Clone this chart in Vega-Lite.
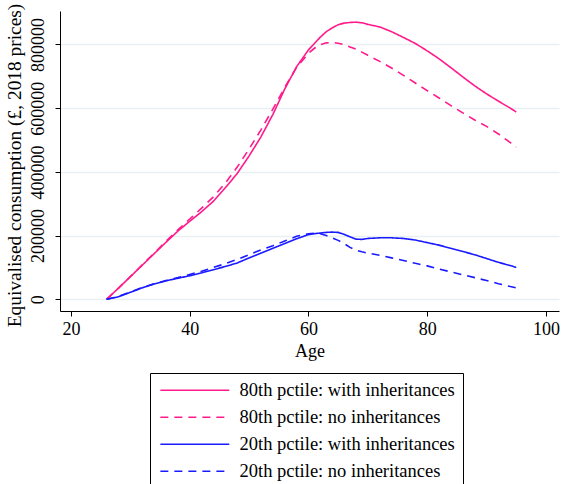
{
  "$schema": "https://vega.github.io/schema/vega-lite/v6.json",
  "width": 499,
  "height": 300,
  "autosize": {"type": "none"},
  "padding": {"left": 60, "top": 11, "right": 5, "bottom": 173},
  "background": "white",
  "config": {"view": {"stroke": null}, "font": "Liberation Serif"},
  "data": {"values": [
    {"age": 26, "80th pctile: with inheritances": 0, "80th pctile: no inheritances": 0, "20th pctile: with inheritances": 0, "20th pctile: no inheritances": 0},
    {"age": 28, "80th pctile: with inheritances": 35000, "80th pctile: no inheritances": 35000, "20th pctile: with inheritances": 8000, "20th pctile: no inheritances": 9000},
    {"age": 30, "80th pctile: with inheritances": 71000, "80th pctile: no inheritances": 71000, "20th pctile: with inheritances": 22000, "20th pctile: no inheritances": 23000},
    {"age": 32, "80th pctile: with inheritances": 107000, "80th pctile: no inheritances": 108000, "20th pctile: with inheritances": 36000, "20th pctile: no inheritances": 37000},
    {"age": 34, "80th pctile: with inheritances": 143000, "80th pctile: no inheritances": 145000, "20th pctile: with inheritances": 48000, "20th pctile: no inheritances": 49000},
    {"age": 36, "80th pctile: with inheritances": 179000, "80th pctile: no inheritances": 182000, "20th pctile: with inheritances": 58000, "20th pctile: no inheritances": 59000},
    {"age": 38, "80th pctile: with inheritances": 214000, "80th pctile: no inheritances": 218000, "20th pctile: with inheritances": 66000, "20th pctile: no inheritances": 68000},
    {"age": 40, "80th pctile: with inheritances": 245000, "80th pctile: no inheritances": 252000, "20th pctile: with inheritances": 74000, "20th pctile: no inheritances": 78000},
    {"age": 42, "80th pctile: with inheritances": 275000, "80th pctile: no inheritances": 286000, "20th pctile: with inheritances": 83000, "20th pctile: no inheritances": 88000},
    {"age": 44, "80th pctile: with inheritances": 308000, "80th pctile: no inheritances": 322000, "20th pctile: with inheritances": 93000, "20th pctile: no inheritances": 100000},
    {"age": 46, "80th pctile: with inheritances": 350000, "80th pctile: no inheritances": 365000, "20th pctile: with inheritances": 103000, "20th pctile: no inheritances": 112000},
    {"age": 48, "80th pctile: with inheritances": 395000, "80th pctile: no inheritances": 415000, "20th pctile: with inheritances": 114000, "20th pctile: no inheritances": 125000},
    {"age": 50, "80th pctile: with inheritances": 450000, "80th pctile: no inheritances": 472000, "20th pctile: with inheritances": 130000, "20th pctile: no inheritances": 140000},
    {"age": 52, "80th pctile: with inheritances": 510000, "80th pctile: no inheritances": 532000, "20th pctile: with inheritances": 145000, "20th pctile: no inheritances": 155000},
    {"age": 54, "80th pctile: with inheritances": 580000, "80th pctile: no inheritances": 597000, "20th pctile: with inheritances": 160000, "20th pctile: no inheritances": 168000},
    {"age": 56, "80th pctile: with inheritances": 660000, "80th pctile: no inheritances": 665000, "20th pctile: with inheritances": 175000, "20th pctile: no inheritances": 183000},
    {"age": 58, "80th pctile: with inheritances": 730000, "80th pctile: no inheritances": 728000, "20th pctile: with inheritances": 190000, "20th pctile: no inheritances": 198000},
    {"age": 60, "80th pctile: with inheritances": 783000, "80th pctile: no inheritances": 772000, "20th pctile: with inheritances": 203000, "20th pctile: no inheritances": 206000},
    {"age": 61, "80th pctile: with inheritances": 803000, "80th pctile: no inheritances": 788000, "20th pctile: with inheritances": 206000, "20th pctile: no inheritances": 207000},
    {"age": 62, "80th pctile: with inheritances": 823000, "80th pctile: no inheritances": 799000, "20th pctile: with inheritances": 208000, "20th pctile: no inheritances": 206000},
    {"age": 63, "80th pctile: with inheritances": 840000, "80th pctile: no inheritances": 805000, "20th pctile: with inheritances": 210000, "20th pctile: no inheritances": 200000},
    {"age": 64, "80th pctile: with inheritances": 852000, "80th pctile: no inheritances": 806000, "20th pctile: with inheritances": 211000, "20th pctile: no inheritances": 193000},
    {"age": 65, "80th pctile: with inheritances": 862000, "80th pctile: no inheritances": 804000, "20th pctile: with inheritances": 210000, "20th pctile: no inheritances": 185000},
    {"age": 66, "80th pctile: with inheritances": 867000, "80th pctile: no inheritances": 799000, "20th pctile: with inheritances": 204000, "20th pctile: no inheritances": 175000},
    {"age": 67, "80th pctile: with inheritances": 869000, "80th pctile: no inheritances": 792000, "20th pctile: with inheritances": 196000, "20th pctile: no inheritances": 163000},
    {"age": 68, "80th pctile: with inheritances": 870000, "80th pctile: no inheritances": 785000, "20th pctile: with inheritances": 189000, "20th pctile: no inheritances": 154000},
    {"age": 69, "80th pctile: with inheritances": 868000, "80th pctile: no inheritances": 776000, "20th pctile: with inheritances": 188000, "20th pctile: no inheritances": 149000},
    {"age": 70, "80th pctile: with inheritances": 863000, "80th pctile: no inheritances": 766000, "20th pctile: with inheritances": 191000, "20th pctile: no inheritances": 145000},
    {"age": 72, "80th pctile: with inheritances": 855000, "80th pctile: no inheritances": 747000, "20th pctile: with inheritances": 193000, "20th pctile: no inheritances": 138000},
    {"age": 74, "80th pctile: with inheritances": 840000, "80th pctile: no inheritances": 726000, "20th pctile: with inheritances": 193000, "20th pctile: no inheritances": 130000},
    {"age": 76, "80th pctile: with inheritances": 822000, "80th pctile: no inheritances": 703000, "20th pctile: with inheritances": 191000, "20th pctile: no inheritances": 122000},
    {"age": 78, "80th pctile: with inheritances": 803000, "80th pctile: no inheritances": 679000, "20th pctile: with inheritances": 186000, "20th pctile: no inheritances": 113000},
    {"age": 80, "80th pctile: with inheritances": 780000, "80th pctile: no inheritances": 655000, "20th pctile: with inheritances": 178000, "20th pctile: no inheritances": 105000},
    {"age": 82, "80th pctile: with inheritances": 755000, "80th pctile: no inheritances": 632000, "20th pctile: with inheritances": 170000, "20th pctile: no inheritances": 95000},
    {"age": 84, "80th pctile: with inheritances": 727000, "80th pctile: no inheritances": 608000, "20th pctile: with inheritances": 160000, "20th pctile: no inheritances": 86000},
    {"age": 86, "80th pctile: with inheritances": 698000, "80th pctile: no inheritances": 585000, "20th pctile: with inheritances": 150000, "20th pctile: no inheritances": 77000},
    {"age": 88, "80th pctile: with inheritances": 670000, "80th pctile: no inheritances": 563000, "20th pctile: with inheritances": 140000, "20th pctile: no inheritances": 68000},
    {"age": 90, "80th pctile: with inheritances": 645000, "80th pctile: no inheritances": 543000, "20th pctile: with inheritances": 128000, "20th pctile: no inheritances": 59000},
    {"age": 92, "80th pctile: with inheritances": 622000, "80th pctile: no inheritances": 519000, "20th pctile: with inheritances": 116000, "20th pctile: no inheritances": 49000},
    {"age": 94, "80th pctile: with inheritances": 600000, "80th pctile: no inheritances": 492000, "20th pctile: with inheritances": 106000, "20th pctile: no inheritances": 40000},
    {"age": 95, "80th pctile: with inheritances": 588000, "80th pctile: no inheritances": 478000, "20th pctile: with inheritances": 100000, "20th pctile: no inheritances": 36000}
  ]},
  "transform": [
    {"fold": ["80th pctile: with inheritances", "80th pctile: no inheritances", "20th pctile: with inheritances", "20th pctile: no inheritances"], "as": ["series", "value"]}
  ],
  "mark": {"type": "line", "strokeWidth": 1.6},
  "encoding": {
    "x": {
      "field": "age", "type": "quantitative",
      "scale": {"domain": [18.15, 102.2], "nice": false, "zero": false},
      "axis": {
        "values": [20, 40, 60, 80, 100], "title": "Age", "grid": false,
        "domainColor": "black", "tickColor": "black", "tickSize": 5,
        "labelFontSize": 18, "labelColor": "black", "labelPadding": 4, "labelFont": "Liberation Serif",
        "titleFontSize": 18, "titleFontWeight": "normal", "titleColor": "black", "titlePadding": 4, "titleFont": "Liberation Serif"
      }
    },
    "y": {
      "field": "value", "type": "quantitative",
      "scale": {"domain": [-36700, 905000], "nice": false, "zero": false},
      "axis": {
        "values": [0, 200000, 400000, 600000, 800000], "format": "d",
        "title": "Equivalised consumption (£, 2018 prices)",
        "grid": true, "gridColor": "#e8f0f2", "gridWidth": 1.5,
        "domainColor": "black", "tickColor": "black", "tickSize": 5,
        "labelAngle": 270, "labelAlign": "center", "labelBaseline": "bottom", "labelPadding": 8,
        "labelFontSize": 18, "labelColor": "black", "labelFont": "Liberation Serif",
        "titleFontSize": 19.4, "titleFontWeight": "normal", "titleColor": "black", "titlePadding": 5, "titleFont": "Liberation Serif",
        "titleY": 154
      }
    },
    "color": {
      "field": "series", "type": "nominal",
      "scale": {
        "domain": ["80th pctile: with inheritances", "80th pctile: no inheritances", "20th pctile: with inheritances", "20th pctile: no inheritances"],
        "range": ["#ff1a8c", "#ff1a8c", "#1a1aff", "#1a1aff"]
      },
      "legend": {
        "title": null, "orient": "none", "legendX": 90, "legendY": 362, "direction": "vertical",
        "symbolType": "M-1,0H9", "symbolSize": 190, "symbolStrokeWidth": 1.6,
        "labelFontSize": 18.5, "labelFont": "Liberation Serif", "labelColor": "black", "labelOffset": 63, "labelLimit": 400,
        "rowPadding": 8,
        "strokeColor": "black", "fillColor": "white", "padding": 8
      }
    },
    "strokeDash": {
      "field": "series", "type": "nominal",
      "scale": {
        "domain": ["80th pctile: with inheritances", "80th pctile: no inheritances", "20th pctile: with inheritances", "20th pctile: no inheritances"],
        "range": [[1, 0], [8, 6], [1, 0], [8, 6]]
      },
      "legend": {
        "title": null, "orient": "none", "legendX": 90, "legendY": 362, "direction": "vertical",
        "symbolType": "M-1,0H9", "symbolSize": 190, "symbolStrokeWidth": 1.6,
        "labelFontSize": 18.5, "labelFont": "Liberation Serif", "labelColor": "black", "labelOffset": 63, "labelLimit": 400,
        "rowPadding": 8,
        "strokeColor": "black", "fillColor": "white", "padding": 8
      }
    }
  }
}
